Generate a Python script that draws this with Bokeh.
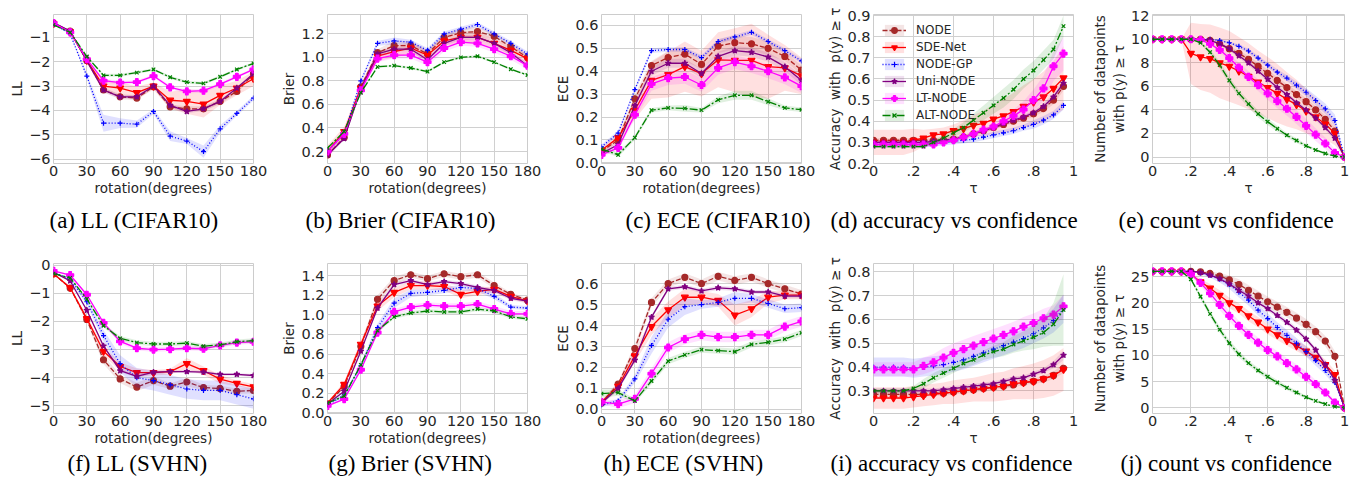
from bokeh.plotting import figure
from bokeh.models import FixedTicker, Range1d, Legend, LegendItem, Title
from bokeh.layouts import row, column
from bokeh.embed import file_html
from bokeh.resources import INLINE

# ---------------- data ----------------
ROT = [0, 15, 30, 45, 60, 75, 90, 105, 120, 135, 150, 165, 180]
TAU = [0, 0.05, 0.1, 0.15, 0.2, 0.25, 0.3, 0.35, 0.4, 0.45, 0.5, 0.55, 0.6, 0.65, 0.7, 0.75, 0.8, 0.85, 0.9, 0.95]
TAU_CNT = [0, 0.05, 0.1, 0.15, 0.2, 0.25, 0.3, 0.35, 0.4, 0.45, 0.5, 0.55, 0.6, 0.65, 0.7, 0.75, 0.8, 0.85, 0.9, 0.95, 1]

NAMES = ["NODE", "SDE-Net", "NODE-GP", "Uni-NODE", "LT-NODE", "ALT-NODE"]

# (a) LL CIFAR10
A_NODE = [-0.42, -0.75, -1.95, -3.16, -3.44, -3.49, -3.03, -3.85, -3.93, -3.93, -3.63, -3.22, -2.5]
A_SDE = [-0.45, -0.78, -1.95, -3.0, -3.08, -3.27, -3.0, -3.58, -3.63, -3.74, -3.38, -3.08, -2.7]
A_GP = [-0.45, -0.86, -2.59, -4.52, -4.52, -4.56, -4.04, -5.05, -5.25, -5.68, -4.75, -4.12, -3.49]
A_UNI = [-0.40, -0.75, -1.97, -3.16, -3.44, -3.44, -3.0, -3.79, -4.04, -3.93, -3.63, -3.08, -2.5]
A_LT = [-0.42, -0.8, -1.9, -2.78, -2.86, -2.84, -2.59, -3.05, -3.22, -3.19, -2.92, -2.62, -2.32]
A_ALT = [-0.5, -0.8, -1.79, -2.56, -2.56, -2.45, -2.32, -2.64, -2.84, -2.89, -2.62, -2.32, -2.07]
A_NODE_SD = [0.02, 0.03, 0.06, 0.1, 0.1, 0.1, 0.06, 0.1, 0.1, 0.1, 0.1, 0.08, 0.08]
A_SDE_SD = [0.03, 0.05, 0.1, 0.25, 0.25, 0.25, 0.15, 0.35, 0.5, 0.55, 0.4, 0.3, 0.3]
A_GP_SD = [0.02, 0.05, 0.1, 0.35, 0.2, 0.15, 0.1, 0.2, 0.12, 0.25, 0.15, 0.1, 0.1]
A_UNI_SD = [0.02, 0.03, 0.05, 0.08, 0.08, 0.08, 0.06, 0.08, 0.08, 0.08, 0.08, 0.06, 0.06]
A_LT_SD = [0.02, 0.03, 0.05, 0.08, 0.08, 0.08, 0.06, 0.08, 0.08, 0.08, 0.08, 0.06, 0.06]
A_ALT_SD = [0.02, 0.03, 0.05, 0.06, 0.06, 0.06, 0.05, 0.06, 0.06, 0.06, 0.06, 0.05, 0.05]

# (b) Brier CIFAR10
B_NODE = [0.17, 0.32, 0.75, 1.04, 1.10, 1.10, 1.03, 1.17, 1.21, 1.22, 1.18, 1.09, 1.00]
B_SDE = [0.20, 0.37, 0.74, 1.01, 1.05, 1.08, 1.02, 1.14, 1.17, 1.17, 1.12, 1.06, 0.99]
B_GP = [0.20, 0.35, 0.80, 1.12, 1.14, 1.13, 1.06, 1.20, 1.24, 1.28, 1.20, 1.12, 1.03]
B_UNI = [0.17, 0.31, 0.73, 1.03, 1.07, 1.07, 0.98, 1.12, 1.17, 1.17, 1.12, 1.04, 0.93]
B_LT = [0.20, 0.35, 0.72, 0.99, 1.02, 1.02, 0.96, 1.08, 1.13, 1.12, 1.07, 1.01, 0.93]
B_ALT = [0.23, 0.37, 0.70, 0.92, 0.93, 0.91, 0.88, 0.96, 1.00, 1.01, 0.96, 0.90, 0.85]
B_NODE_SD = [0.02, 0.02, 0.02, 0.03, 0.04, 0.04, 0.03, 0.03, 0.04, 0.04, 0.03, 0.03, 0.03]
B_SDE_SD = [0.05, 0.04, 0.03, 0.04, 0.05, 0.05, 0.04, 0.04, 0.05, 0.05, 0.04, 0.04, 0.04]
B_GP_SD = [0.01, 0.01, 0.02, 0.02, 0.03, 0.02, 0.02, 0.02, 0.02, 0.02, 0.02, 0.02, 0.02]
B_UNI_SD = [0.01, 0.01, 0.02, 0.02, 0.02, 0.02, 0.02, 0.02, 0.02, 0.02, 0.02, 0.02, 0.02]
B_LT_SD = [0.02, 0.02, 0.02, 0.03, 0.03, 0.03, 0.03, 0.03, 0.03, 0.03, 0.03, 0.03, 0.03]
B_ALT_SD = [0.01, 0.01, 0.01, 0.01, 0.01, 0.01, 0.01, 0.01, 0.01, 0.01, 0.01, 0.01, 0.01]

# (c) ECE CIFAR10
C_NODE = [0.05, 0.10, 0.28, 0.425, 0.46, 0.475, 0.43, 0.51, 0.525, 0.52, 0.50, 0.465, 0.405]
C_SDE = [0.055, 0.11, 0.23, 0.36, 0.385, 0.42, 0.39, 0.45, 0.448, 0.448, 0.42, 0.415, 0.38]
C_GP = [0.07, 0.13, 0.32, 0.49, 0.495, 0.495, 0.46, 0.53, 0.55, 0.57, 0.53, 0.49, 0.445]
C_UNI = [0.04, 0.08, 0.25, 0.40, 0.435, 0.435, 0.39, 0.465, 0.49, 0.483, 0.462, 0.42, 0.36]
C_LT = [0.035, 0.065, 0.21, 0.345, 0.37, 0.375, 0.34, 0.415, 0.44, 0.422, 0.40, 0.373, 0.335]
C_ALT = [0.06, 0.035, 0.11, 0.23, 0.24, 0.238, 0.23, 0.275, 0.295, 0.295, 0.267, 0.24, 0.232]
C_NODE_SD = [0.01, 0.01, 0.02, 0.02, 0.03, 0.03, 0.02, 0.03, 0.03, 0.03, 0.03, 0.02, 0.02]
C_SDE_SD = [0.01, 0.02, 0.04, 0.08, 0.1, 0.11, 0.1, 0.12, 0.14, 0.16, 0.14, 0.1, 0.08]
C_GP_SD = [0.01, 0.01, 0.01, 0.01, 0.01, 0.01, 0.01, 0.01, 0.01, 0.01, 0.01, 0.01, 0.01]
C_UNI_SD = [0.01, 0.01, 0.01, 0.02, 0.02, 0.02, 0.02, 0.02, 0.02, 0.02, 0.02, 0.02, 0.02]
C_LT_SD = [0.01, 0.01, 0.02, 0.03, 0.03, 0.03, 0.03, 0.03, 0.03, 0.03, 0.03, 0.03, 0.03]
C_ALT_SD = [0.01, 0.01, 0.01, 0.01, 0.01, 0.015, 0.01, 0.015, 0.02, 0.02, 0.015, 0.01, 0.01]

# (d) accuracy vs confidence CIFAR10
D_NODE = [0.31, 0.31, 0.31, 0.31, 0.31, 0.31, 0.31, 0.31, 0.315, 0.325, 0.34, 0.355, 0.37, 0.385, 0.40, 0.415, 0.435, 0.46, 0.50, 0.565]
D_SDE = [0.30, 0.30, 0.30, 0.30, 0.31, 0.32, 0.335, 0.34, 0.355, 0.365, 0.38, 0.39, 0.41, 0.425, 0.445, 0.47, 0.49, 0.515, 0.555, 0.605]
D_GP = [0.29, 0.29, 0.29, 0.29, 0.29, 0.29, 0.295, 0.30, 0.305, 0.31, 0.315, 0.325, 0.335, 0.345, 0.355, 0.37, 0.385, 0.405, 0.43, 0.475]
D_UNI = [0.30, 0.30, 0.30, 0.30, 0.30, 0.30, 0.305, 0.31, 0.315, 0.325, 0.34, 0.355, 0.37, 0.39, 0.405, 0.42, 0.44, 0.47, 0.515, 0.58]
D_LT = [0.29, 0.29, 0.29, 0.29, 0.29, 0.29, 0.29, 0.30, 0.31, 0.325, 0.34, 0.36, 0.375, 0.40, 0.425, 0.455, 0.50, 0.555, 0.66, 0.72]
D_ALT = [0.28, 0.28, 0.28, 0.28, 0.28, 0.28, 0.30, 0.32, 0.345, 0.37, 0.405, 0.44, 0.475, 0.51, 0.55, 0.60, 0.64, 0.69, 0.74, 0.85]
D_NODE_SD = [0.01, 0.01, 0.01, 0.01, 0.01, 0.01, 0.01, 0.01, 0.01, 0.01, 0.01, 0.01, 0.01, 0.01, 0.01, 0.01, 0.015, 0.015, 0.02, 0.02]
D_SDE_SD = [0.06, 0.06, 0.06, 0.06, 0.055, 0.04, 0.03, 0.03, 0.03, 0.04, 0.05, 0.06, 0.07, 0.08, 0.09, 0.1, 0.11, 0.12, 0.13, 0.15]
D_GP_SD = [0.015, 0.015, 0.015, 0.015, 0.015, 0.015, 0.015, 0.015, 0.015, 0.015, 0.015, 0.015, 0.015, 0.015, 0.015, 0.015, 0.02, 0.02, 0.02, 0.02]
D_UNI_SD = [0.01, 0.01, 0.01, 0.01, 0.01, 0.01, 0.01, 0.01, 0.01, 0.01, 0.01, 0.01, 0.01, 0.01, 0.01, 0.01, 0.01, 0.015, 0.015, 0.02]
D_LT_SD = [0.01, 0.01, 0.01, 0.01, 0.01, 0.01, 0.01, 0.01, 0.01, 0.01, 0.01, 0.01, 0.015, 0.02, 0.03, 0.04, 0.05, 0.06, 0.07, 0.08]
D_ALT_SD = [0.005, 0.005, 0.005, 0.005, 0.005, 0.005, 0.01, 0.015, 0.02, 0.025, 0.03, 0.035, 0.04, 0.045, 0.045, 0.045, 0.045, 0.045, 0.045, 0.05]

# (e) count vs confidence CIFAR10
E_NODE = [10, 10, 10, 10, 10, 10, 9.9, 9.6, 9.2, 8.8, 8.3, 7.7, 7.1, 6.5, 5.9, 5.3, 4.7, 4.0, 3.2, 2.2, 0]
E_SDE = [10, 10, 10, 10, 8.8, 8.5, 8.35, 8.0, 7.7, 7.3, 6.85, 6.35, 5.9, 5.4, 4.9, 4.45, 3.9, 3.4, 2.8, 2.0, 0]
E_GP = [10, 10, 10, 10, 10, 10, 10, 9.9, 9.7, 9.4, 9.0, 8.4, 7.8, 7.2, 6.7, 6.1, 5.5, 4.8, 4.1, 3.1, 0]
E_UNI = [10, 10, 10, 10, 10, 10, 9.9, 9.6, 9.2, 8.6, 8.0, 7.3, 6.6, 5.9, 5.3, 4.6, 4.0, 3.3, 2.5, 1.6, 0]
E_LT = [10, 10, 10, 10, 10, 9.95, 9.6, 9.1, 8.4, 7.6, 6.8, 6.1, 5.4, 4.75, 4.1, 3.4, 2.65, 1.9, 1.15, 0.35, 0]
E_ALT = [10, 10, 10, 10, 10, 9.7, 8.9, 7.8, 6.5, 5.4, 4.5, 3.65, 3.0, 2.4, 1.85, 1.4, 0.95, 0.6, 0.3, 0.08, 0]
E_NODE_SD = [0, 0, 0, 0, 0, 0.05, 0.1, 0.15, 0.2, 0.25, 0.3, 0.3, 0.3, 0.3, 0.3, 0.3, 0.3, 0.3, 0.3, 0.3, 0]
E_SDE_SD = [0, 0, 0, 0, 2.6, 2.8, 2.9, 3.0, 3.0, 2.9, 2.8, 2.7, 2.6, 2.5, 2.3, 2.1, 1.9, 1.6, 1.3, 1.0, 0]
E_GP_SD = [0, 0, 0, 0, 0, 0, 0.05, 0.1, 0.1, 0.15, 0.2, 0.2, 0.2, 0.25, 0.25, 0.3, 0.35, 0.4, 0.45, 0.5, 0]
E_UNI_SD = [0, 0, 0, 0, 0, 0, 0.05, 0.1, 0.15, 0.2, 0.2, 0.2, 0.2, 0.2, 0.2, 0.2, 0.2, 0.2, 0.2, 0.2, 0]
E_LT_SD = [0, 0, 0, 0, 0, 0.05, 0.1, 0.2, 0.3, 0.4, 0.5, 0.5, 0.55, 0.6, 0.6, 0.6, 0.6, 0.55, 0.5, 0.3, 0]
E_ALT_SD = [0, 0, 0, 0, 0, 0.1, 0.2, 0.3, 0.3, 0.3, 0.3, 0.3, 0.3, 0.25, 0.2, 0.2, 0.15, 0.1, 0.1, 0.05, 0]

# (f) LL SVHN
F_NODE = [-0.3, -0.81, -1.93, -3.36, -4.04, -4.33, -4.1, -4.3, -4.15, -4.35, -4.38, -4.48, -4.45]
F_SDE = [-0.3, -0.8, -1.9, -3.06, -3.6, -3.82, -3.82, -3.78, -3.5, -3.75, -4.05, -4.2, -4.32]
F_GP = [-0.25, -0.5, -1.3, -2.5, -3.5, -4.0, -4.1, -4.25, -4.4, -4.45, -4.45, -4.6, -4.75]
F_UNI = [-0.25, -0.56, -1.6, -2.87, -3.75, -3.95, -3.8, -3.78, -3.78, -3.8, -3.88, -3.88, -3.92]
F_LT = [-0.2, -0.35, -1.05, -2.05, -2.71, -2.95, -3.0, -2.98, -2.95, -2.97, -2.85, -2.75, -2.72]
F_ALT = [-0.3, -0.45, -1.2, -2.15, -2.6, -2.75, -2.8, -2.8, -2.77, -2.88, -2.83, -2.72, -2.68]
F_NODE_SD = [0.02, 0.05, 0.1, 0.15, 0.15, 0.15, 0.15, 0.1, 0.15, 0.1, 0.1, 0.1, 0.1]
F_SDE_SD = [0.02, 0.05, 0.1, 0.15, 0.15, 0.15, 0.1, 0.1, 0.2, 0.15, 0.15, 0.1, 0.1]
F_GP_SD = [0.02, 0.05, 0.1, 0.2, 0.3, 0.35, 0.35, 0.35, 0.35, 0.35, 0.35, 0.35, 0.35]
F_UNI_SD = [0.02, 0.03, 0.05, 0.05, 0.05, 0.05, 0.05, 0.05, 0.05, 0.05, 0.05, 0.05, 0.05]
F_LT_SD = [0.02, 0.03, 0.05, 0.06, 0.08, 0.08, 0.08, 0.08, 0.08, 0.08, 0.08, 0.08, 0.08]
F_ALT_SD = [0.02, 0.03, 0.05, 0.06, 0.08, 0.08, 0.08, 0.08, 0.08, 0.08, 0.08, 0.08, 0.08]

# (g) Brier SVHN
G_NODE = [0.09, 0.27, 0.68, 1.16, 1.35, 1.41, 1.37, 1.42, 1.39, 1.41, 1.30, 1.21, 1.15]
G_SDE = [0.10, 0.29, 0.70, 1.09, 1.23, 1.30, 1.30, 1.29, 1.21, 1.24, 1.26, 1.19, 1.14]
G_GP = [0.08, 0.18, 0.48, 0.87, 1.12, 1.22, 1.23, 1.25, 1.28, 1.27, 1.19, 1.08, 1.07]
G_UNI = [0.09, 0.22, 0.63, 1.07, 1.31, 1.35, 1.31, 1.34, 1.32, 1.28, 1.25, 1.17, 1.14]
G_LT = [0.07, 0.14, 0.44, 0.82, 1.03, 1.08, 1.10, 1.09, 1.09, 1.11, 1.06, 1.01, 1.01]
G_ALT = [0.10, 0.17, 0.49, 0.84, 0.98, 1.02, 1.04, 1.03, 1.03, 1.06, 1.04, 0.98, 0.96]
G_NODE_SD = [0.01, 0.02, 0.03, 0.04, 0.04, 0.03, 0.03, 0.03, 0.03, 0.03, 0.03, 0.02, 0.02]
G_SDE_SD = [0.01, 0.03, 0.04, 0.05, 0.05, 0.04, 0.04, 0.04, 0.04, 0.04, 0.03, 0.03, 0.02]
G_GP_SD = [0.01, 0.02, 0.03, 0.04, 0.05, 0.04, 0.03, 0.03, 0.03, 0.03, 0.03, 0.02, 0.02]
G_UNI_SD = [0.01, 0.01, 0.02, 0.02, 0.02, 0.02, 0.02, 0.02, 0.02, 0.02, 0.02, 0.02, 0.02]
G_LT_SD = [0.01, 0.01, 0.02, 0.02, 0.03, 0.03, 0.03, 0.03, 0.03, 0.03, 0.03, 0.03, 0.03]
G_ALT_SD = [0.01, 0.01, 0.01, 0.02, 0.02, 0.02, 0.02, 0.02, 0.02, 0.02, 0.02, 0.02, 0.02]

# (h) ECE SVHN
H_NODE = [0.03, 0.12, 0.29, 0.51, 0.60, 0.63, 0.60, 0.635, 0.615, 0.63, 0.60, 0.575, 0.55]
H_SDE = [0.035, 0.11, 0.255, 0.395, 0.475, 0.535, 0.535, 0.52, 0.45, 0.48, 0.535, 0.545, 0.545]
H_GP = [0.02, 0.04, 0.145, 0.305, 0.43, 0.49, 0.50, 0.51, 0.53, 0.53, 0.505, 0.48, 0.485]
H_UNI = [0.03, 0.10, 0.235, 0.44, 0.575, 0.585, 0.565, 0.58, 0.575, 0.56, 0.56, 0.54, 0.54]
H_LT = [0.035, 0.025, 0.05, 0.17, 0.295, 0.335, 0.355, 0.345, 0.345, 0.355, 0.355, 0.395, 0.42]
H_ALT = [0.075, 0.08, 0.04, 0.135, 0.23, 0.26, 0.285, 0.28, 0.275, 0.31, 0.32, 0.335, 0.365]
H_NODE_SD = [0.01, 0.01, 0.02, 0.02, 0.02, 0.02, 0.02, 0.02, 0.02, 0.02, 0.02, 0.02, 0.02]
H_SDE_SD = [0.01, 0.02, 0.03, 0.04, 0.04, 0.04, 0.03, 0.03, 0.05, 0.04, 0.03, 0.02, 0.02]
H_GP_SD = [0.01, 0.01, 0.02, 0.04, 0.04, 0.04, 0.02, 0.02, 0.03, 0.02, 0.02, 0.02, 0.02]
H_UNI_SD = [0.01, 0.01, 0.01, 0.01, 0.01, 0.01, 0.01, 0.01, 0.01, 0.01, 0.01, 0.01, 0.01]
H_LT_SD = [0.01, 0.02, 0.02, 0.025, 0.025, 0.025, 0.025, 0.025, 0.025, 0.025, 0.025, 0.025, 0.025]
H_ALT_SD = [0.02, 0.015, 0.01, 0.015, 0.015, 0.015, 0.015, 0.015, 0.015, 0.015, 0.015, 0.015, 0.015]

# (i) accuracy vs confidence SVHN
I_NODE = [0.285, 0.285, 0.285, 0.285, 0.285, 0.285, 0.29, 0.29, 0.295, 0.30, 0.305, 0.31, 0.315, 0.32, 0.325, 0.335, 0.34, 0.35, 0.365, 0.395]
I_SDE = [0.27, 0.27, 0.27, 0.27, 0.275, 0.28, 0.285, 0.29, 0.295, 0.30, 0.305, 0.31, 0.315, 0.32, 0.33, 0.335, 0.34, 0.35, 0.365, 0.39]
I_GP = [0.40, 0.40, 0.40, 0.40, 0.395, 0.40, 0.405, 0.41, 0.42, 0.43, 0.445, 0.46, 0.475, 0.49, 0.505, 0.52, 0.54, 0.565, 0.595, 0.645]
I_UNI = [0.30, 0.30, 0.30, 0.30, 0.30, 0.30, 0.30, 0.305, 0.31, 0.315, 0.32, 0.325, 0.33, 0.34, 0.35, 0.355, 0.37, 0.385, 0.41, 0.45]
I_LT = [0.39, 0.39, 0.39, 0.39, 0.39, 0.405, 0.42, 0.44, 0.46, 0.475, 0.49, 0.505, 0.52, 0.535, 0.55, 0.57, 0.585, 0.605, 0.62, 0.655]
I_ALT = [0.30, 0.30, 0.30, 0.30, 0.31, 0.33, 0.355, 0.375, 0.395, 0.415, 0.43, 0.45, 0.465, 0.475, 0.495, 0.51, 0.525, 0.545, 0.58, 0.64]
I_NODE_SD = [0.01, 0.01, 0.01, 0.01, 0.01, 0.01, 0.01, 0.01, 0.01, 0.01, 0.01, 0.01, 0.01, 0.01, 0.01, 0.01, 0.01, 0.015, 0.015, 0.02]
I_SDE_SD = [0.045, 0.045, 0.045, 0.045, 0.045, 0.045, 0.045, 0.045, 0.05, 0.05, 0.05, 0.055, 0.06, 0.06, 0.065, 0.07, 0.075, 0.08, 0.085, 0.09]
I_GP_SD = [0.04, 0.04, 0.04, 0.04, 0.04, 0.04, 0.04, 0.04, 0.04, 0.04, 0.04, 0.04, 0.04, 0.04, 0.04, 0.04, 0.04, 0.045, 0.05, 0.06]
I_UNI_SD = [0.01, 0.01, 0.01, 0.01, 0.01, 0.01, 0.01, 0.01, 0.01, 0.01, 0.01, 0.01, 0.01, 0.01, 0.01, 0.01, 0.01, 0.01, 0.015, 0.02]
I_LT_SD = [0.03, 0.03, 0.03, 0.03, 0.03, 0.035, 0.035, 0.04, 0.04, 0.04, 0.04, 0.04, 0.04, 0.04, 0.04, 0.04, 0.04, 0.04, 0.04, 0.05]
I_ALT_SD = [0.01, 0.01, 0.01, 0.01, 0.01, 0.02, 0.02, 0.02, 0.02, 0.02, 0.02, 0.02, 0.025, 0.03, 0.035, 0.04, 0.05, 0.06, 0.09, 0.15]

# (j) count vs confidence SVHN
J_NODE = [26, 26, 26, 26, 26, 25.9, 25.6, 25.1, 24.4, 23.5, 22.4, 21.3, 20.2, 19.2, 18.2, 17.1, 15.9, 14.5, 12.7, 9.8, 0]
J_SDE = [26, 26, 26, 26, 25.4, 24.0, 22.8, 21.4, 20.0, 18.9, 17.5, 16.3, 15.0, 13.9, 12.8, 11.8, 10.8, 9.6, 8.2, 6.3, 0]
J_GP = [26, 26, 26, 26, 26, 25.7, 25.2, 24.5, 23.5, 22.0, 20.5, 18.6, 17.0, 15.3, 13.8, 12.3, 10.7, 9.0, 7.1, 4.8, 0]
J_UNI = [26, 26, 26, 26, 26, 25.8, 25.3, 24.6, 23.6, 22.4, 21.3, 20.0, 18.9, 17.6, 16.3, 14.8, 13.1, 11.0, 8.2, 5.2, 0]
J_LT = [26, 26, 26, 26, 25.5, 23.8, 21.8, 19.6, 17.5, 15.6, 13.9, 12.4, 11.0, 9.8, 8.5, 7.3, 5.9, 4.5, 2.9, 1.0, 0]
J_ALT = [26, 26, 26, 26, 24.5, 21.2, 17.9, 14.9, 12.3, 10.2, 8.5, 7.1, 5.9, 4.8, 3.8, 2.9, 2.0, 1.3, 0.7, 0.2, 0]
J_NODE_SD = [0, 0, 0, 0, 0, 0.2, 0.4, 0.6, 0.8, 1.0, 1.0, 1.0, 1.0, 1.0, 1.0, 1.0, 1.0, 1.0, 1.0, 1.0, 0]
J_SDE_SD = [0, 0, 0, 0, 0.3, 0.6, 0.8, 1.0, 1.0, 1.0, 1.0, 1.0, 1.0, 1.0, 1.0, 1.0, 1.0, 1.0, 1.0, 0.8, 0]
J_GP_SD = [0, 0, 0, 0, 0, 0.2, 0.4, 0.6, 0.8, 1.0, 1.0, 1.0, 1.0, 1.0, 1.0, 1.0, 1.0, 1.0, 0.8, 0.6, 0]
J_UNI_SD = [0, 0, 0, 0, 0, 0.1, 0.2, 0.3, 0.4, 0.5, 0.5, 0.5, 0.5, 0.5, 0.5, 0.5, 0.5, 0.5, 0.5, 0.4, 0]
J_LT_SD = [0, 0, 0, 0, 0.3, 0.6, 0.8, 1.0, 1.0, 1.0, 1.0, 1.0, 1.0, 1.0, 1.0, 1.0, 1.0, 0.8, 0.6, 0.4, 0]
J_ALT_SD = [0, 0, 0, 0, 0.3, 0.5, 0.6, 0.6, 0.6, 0.6, 0.5, 0.5, 0.5, 0.5, 0.4, 0.4, 0.3, 0.3, 0.2, 0.1, 0]

# ---------------- styles ----------------
COLORS = ["#a52a2a", "#ff0000", "#0000ff", "#800080", "#ff00ff", "#008000"]
DASHES = ["5 2", "solid", "1 2", "solid", "solid", "8 2 2 2"]
MARKERS = ["circle", "inverted_triangle", "cross", "star", "plus", "x"]
MSIZES = [6, 7, 5, 6, 7, 5]

TICK_FONT = "14.5px"
LABEL_FONT = "13.5px"
TXT = "#262626"
GRID = "#d0d0d0"

ROT_TICKS = [0, 30, 60, 90, 120, 150, 180]
TAU_TICKS = [0, 0.2, 0.4, 0.6, 0.8, 1]
TAU_LABELS = ["0", ".2", ".4", ".6", ".8", "1"]
ACC_LABEL = "Accuracy \u00a0with \u00a0p(y) \u2265 \u03c4"
CNT_LABEL = "Number of datapoints\nwith p(y) \u2265 \u03c4"


def build(x, means, sds, xr, yr, xt, xtl, yt, ytl, xlabel, ylabel, caption,
          cap_dx, cap_so, L, R, T, B, FH, legend=False):
    p = figure(width=L + 200 + R, height=T + FH + B,
               x_range=Range1d(*xr), y_range=Range1d(*yr),
               output_backend="svg", toolbar_location=None,
               min_border_left=L, min_border_right=R,
               min_border_top=T, min_border_bottom=B)
    p.outline_line_color = "#cccccc"
    p.outline_line_width = 1
    p.background_fill_color = "white"
    p.border_fill_color = "white"

    items = []
    for i in range(6):
        c = COLORS[i]
        lo = [m - s for m, s in zip(means[i], sds[i])]
        hi = [m + s for m, s in zip(means[i], sds[i])]
        band = p.varea(x=x, y1=lo, y2=hi, fill_color=c, fill_alpha=0.12)
        ln = p.line(x, means[i], line_color=c, line_width=1.3, line_dash=DASHES[i])
        sc = p.scatter(x, means[i], marker=MARKERS[i], size=MSIZES[i],
                       line_color=c, fill_color=c, line_width=1.2)
        items.append(LegendItem(label=NAMES[i], renderers=[band, ln, sc]))

    p.xaxis.ticker = FixedTicker(ticks=xt)
    p.yaxis.ticker = FixedTicker(ticks=yt)
    p.xaxis.major_label_overrides = dict(zip(xt, xtl))
    p.yaxis.major_label_overrides = dict(zip(yt, ytl))
    for ax in (p.xaxis[0], p.yaxis[0]):
        ax.major_tick_line_color = None
        ax.minor_tick_line_color = None
        ax.major_tick_out = 0
        ax.major_tick_in = 0
        ax.minor_tick_out = 0
        ax.minor_tick_in = 0
        ax.axis_line_color = None
        ax.major_label_text_font = "DejaVu Sans"
        ax.major_label_text_font_size = TICK_FONT
        ax.major_label_text_color = TXT
        ax.axis_label_text_font = "DejaVu Sans"
        ax.axis_label_text_font_size = LABEL_FONT
        ax.axis_label_text_font_style = "normal"
        ax.axis_label_text_color = TXT
        ax.axis_label_standoff = 1
    p.xaxis.major_label_standoff = 2
    p.yaxis.major_label_standoff = 3
    p.xaxis.axis_label = xlabel
    p.yaxis.axis_label = ylabel
    p.xgrid.grid_line_color = GRID
    p.ygrid.grid_line_color = GRID

    if legend:
        lg = Legend(items=items, location="top_left",
                    background_fill_alpha=0, border_line_alpha=0,
                    label_text_font="DejaVu Sans", label_text_font_size="12px",
                    label_text_color=TXT, glyph_width=24, glyph_height=14,
                    label_height=14, spacing=3, padding=2, margin=7,
                    label_standoff=10)
        p.add_layout(lg)

    cap = Title(text=caption, align="left", offset=cap_dx, standoff=cap_so,
                text_font="Liberation Serif", text_font_size="23px",
                text_font_style="normal", text_color="black")
    p.add_layout(cap, "below")
    return p


def minus(vals):
    return [("\u2212" + str(abs(v))) if v < 0 else str(v) for v in vals]


# top row geometry (page origin at 0,0)
TT, TB, TFH = 14, 82, 149
# bottom row geometry
BT, BB, BFH = 18, 69, 150
SO_TOP = 14
SO_BOT = 0

pa = build(ROT, [A_NODE, A_SDE, A_GP, A_UNI, A_LT, A_ALT],
           [A_NODE_SD, A_SDE_SD, A_GP_SD, A_UNI_SD, A_LT_SD, A_ALT_SD],
           (0, 180), (-6.17, -0.07), ROT_TICKS, [str(v) for v in ROT_TICKS],
           [-1, -2, -3, -4, -5, -6], minus([-1, -2, -3, -4, -5, -6]),
           "rotation(degrees)", "LL", "(a) LL (CIFAR10)", -4, SO_TOP,
           53, 25, TT, TB, TFH)
pb = build(ROT, [B_NODE, B_SDE, B_GP, B_UNI, B_LT, B_ALT],
           [B_NODE_SD, B_SDE_SD, B_GP_SD, B_UNI_SD, B_LT_SD, B_ALT_SD],
           (0, 180), (0.098, 1.365), ROT_TICKS, [str(v) for v in ROT_TICKS],
           [0.2, 0.4, 0.6, 0.8, 1, 1.2], ["0.2", "0.4", "0.6", "0.8", "1.0", "1.2"],
           "rotation(degrees)", "Brier", "(b) Brier (CIFAR10)", -22, SO_TOP,
           49, 21, TT, TB, TFH)
pc = build(ROT, [C_NODE, C_SDE, C_GP, C_UNI, C_LT, C_ALT],
           [C_NODE_SD, C_SDE_SD, C_GP_SD, C_UNI_SD, C_LT_SD, C_ALT_SD],
           (0, 180), (-0.003, 0.648), ROT_TICKS, [str(v) for v in ROT_TICKS],
           [0, 0.1, 0.2, 0.3, 0.4, 0.5, 0.6], ["0.0", "0.1", "0.2", "0.3", "0.4", "0.5", "0.6"],
           "rotation(degrees)", "ECE", "(c) ECE (CIFAR10)", 24, SO_TOP,
           53, 17, TT, TB, TFH)
pd_ = build(TAU, [D_NODE, D_SDE, D_GP, D_UNI, D_LT, D_ALT],
            [D_NODE_SD, D_SDE_SD, D_GP_SD, D_UNI_SD, D_LT_SD, D_ALT_SD],
            (0, 1), (0.2, 0.905), TAU_TICKS, TAU_LABELS,
            [0.2, 0.3, 0.4, 0.5, 0.6, 0.7, 0.8, 0.9],
            ["0.2", "0.3", "0.4", "0.5", "0.6", "0.7", "0.8", "0.9"],
            "\u03c4", ACC_LABEL, "(d) accuracy vs confidence", -43, SO_TOP,
            55, 15, TT, TB, TFH, legend=True)
pe = build(TAU_CNT, [E_NODE, E_SDE, E_GP, E_UNI, E_LT, E_ALT],
           [E_NODE_SD, E_SDE_SD, E_GP_SD, E_UNI_SD, E_LT_SD, E_ALT_SD],
           (0, 1), (-0.55, 12.1), TAU_TICKS, TAU_LABELS,
           [0, 2, 4, 6, 8, 10, 12], ["0", "2", "4", "6", "8", "10", "12"],
           "\u03c4", CNT_LABEL, "(e) count vs confidence", -34, SO_TOP,
           56, 6, TT, TB, TFH)

pf = build(ROT, [F_NODE, F_SDE, F_GP, F_UNI, F_LT, F_ALT],
           [F_NODE_SD, F_SDE_SD, F_GP_SD, F_UNI_SD, F_LT_SD, F_ALT_SD],
           (0, 180), (-5.27, 0.06), ROT_TICKS, [str(v) for v in ROT_TICKS],
           [0, -1, -2, -3, -4, -5], minus([0, -1, -2, -3, -4, -5]),
           "rotation(degrees)", "LL", "(f) LL (SVHN)", 14, SO_BOT,
           53, 25, BT, BB, BFH)
pg = build(ROT, [G_NODE, G_SDE, G_GP, G_UNI, G_LT, G_ALT],
           [G_NODE_SD, G_SDE_SD, G_GP_SD, G_UNI_SD, G_LT_SD, G_ALT_SD],
           (0, 180), (-0.007, 1.525), ROT_TICKS, [str(v) for v in ROT_TICKS],
           [0, 0.2, 0.4, 0.6, 0.8, 1, 1.2, 1.4],
           ["0.0", "0.2", "0.4", "0.6", "0.8", "1.0", "1.2", "1.4"],
           "rotation(degrees)", "Brier", "(g) Brier (SVHN)", 1, SO_BOT,
           49, 21, BT, BB, BFH)
ph = build(ROT, [H_NODE, H_SDE, H_GP, H_UNI, H_LT, H_ALT],
           [H_NODE_SD, H_SDE_SD, H_GP_SD, H_UNI_SD, H_LT_SD, H_ALT_SD],
           (0, 180), (-0.02, 0.696), ROT_TICKS, [str(v) for v in ROT_TICKS],
           [0, 0.1, 0.2, 0.3, 0.4, 0.5, 0.6], ["0.0", "0.1", "0.2", "0.3", "0.4", "0.5", "0.6"],
           "rotation(degrees)", "ECE", "(h) ECE (SVHN)", 2, SO_BOT,
           53, 17, BT, BB, BFH)
pi = build(TAU, [I_NODE, I_SDE, I_GP, I_UNI, I_LT, I_ALT],
           [I_NODE_SD, I_SDE_SD, I_GP_SD, I_UNI_SD, I_LT_SD, I_ALT_SD],
           (0, 1), (0.205, 0.835), TAU_TICKS, TAU_LABELS,
           [0.3, 0.4, 0.5, 0.6, 0.7, 0.8], ["0.3", "0.4", "0.5", "0.6", "0.7", "0.8"],
           "\u03c4", ACC_LABEL, "(i) accuracy vs confidence", -43, SO_BOT,
           55, 15, BT, BB, BFH)
pj = build(TAU_CNT, [J_NODE, J_SDE, J_GP, J_UNI, J_LT, J_ALT],
           [J_NODE_SD, J_SDE_SD, J_GP_SD, J_UNI_SD, J_LT_SD, J_ALT_SD],
           (0, 1), (-1.1, 27.5), TAU_TICKS, TAU_LABELS,
           [0, 5, 10, 15, 20, 25], ["0", "5", "10", "15", "20", "25"],
           "\u03c4", CNT_LABEL, "(j) count vs confidence", -32, SO_BOT,
           56, 6, BT, BB, BFH)

layout = column(row(pa, pb, pc, pd_, pe, spacing=0),
                row(pf, pg, ph, pi, pj, spacing=0), spacing=0)

open("out.html", "w").write(file_html(layout, INLINE))
